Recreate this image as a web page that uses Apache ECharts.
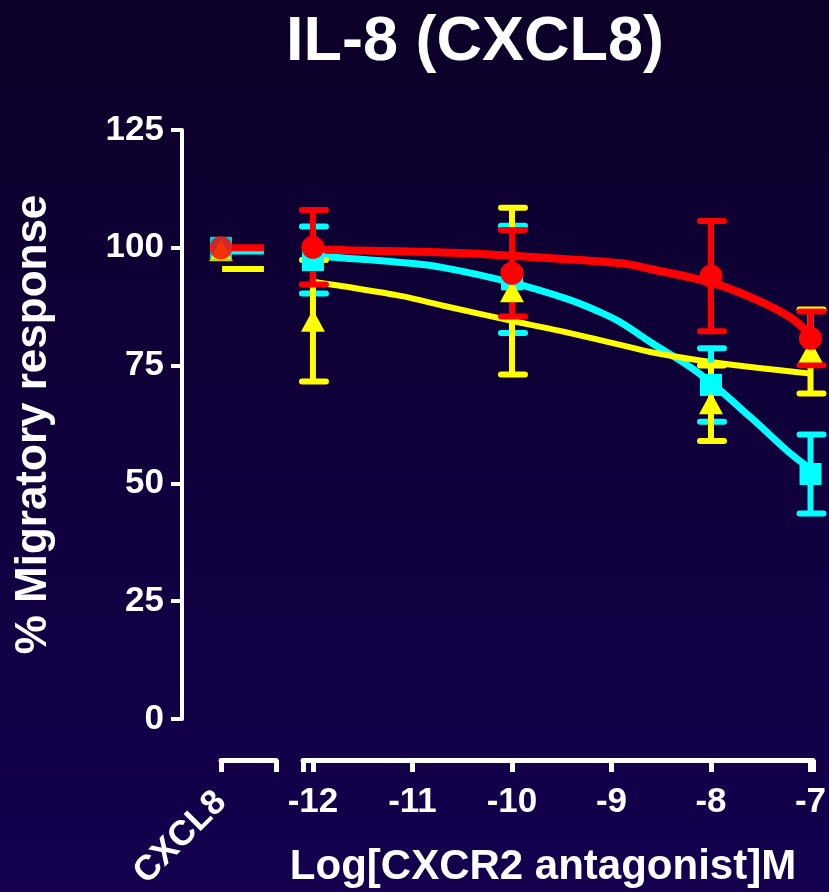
<!DOCTYPE html>
<html>
<head>
<meta charset="utf-8">
<script src="https://cdn.jsdelivr.net/npm/echarts@6/dist/echarts.min.js"></script>
<style>
html,body{margin:0;padding:0;background:#0f003a;}
#chart{width:829px;height:892px;}
</style>
</head>
<body>
<div id="chart"></div>
<script>
// ---- data ----
const titleText = 'IL-8 (CXCL8)';
const yTicks = [0, 25, 50, 75, 100, 125];
const doseTicks = [-12, -11, -10, -9, -8, -7];
const doses = [-12, -10, -8, -7];

const redMean = [100.1, 94.6, 94.0, 80.8];
const redErr = [7.9, 9.2, 11.7, 5.7];
const cyanMean = [97.4, 93.3, 70.9, 52.0];
const cyanErr = [7.1, 11.4, 7.8, 8.4];
const yellowMean = [84.5, 90.8, 67.0, 78.0];
const yellowErr = [12.9, 17.7, 8.0, 8.9];

// control (CXCL8 alone)
const controlRed = 100;
const controlCyan = 100;
const controlYellow = 99.5;
const controlLineRed = 100;
const controlLineCyan = 99.3;
const controlLineYellow = 95.5;

// fitted curves
const redCurveX = [-12, -11.86, -10.69, -10, -8.91, -8.61, -8, -7.6, -7.2, -7];
const redCurveY = [99.9, 99.6, 99.0, 98.3, 96.7, 95.5, 92.6, 89.5, 85.2, 81.4];
const cyanCurveX = [-12, -11.86, -11.12, -10.69, -10, -9.44, -9.11, -8.91, -8.61, -8.11, -7.6, -7.2, -7];
const cyanCurveY = [98.4, 98.1, 96.9, 95.8, 92.6, 89.1, 86.3, 84.2, 80.0, 73.2, 64.0, 56.3, 53.1];
const yellowCurveX = [-12, -11.12, -10.69, -10, -9.44, -8.91, -8.61, -8.11, -7.6, -7];
const yellowCurveY = [92.8, 89.8, 87.7, 84.5, 82.0, 79.4, 77.9, 76.1, 74.7, 73.3];

// ---- chart ----
const RED = '#ff0000', CYAN = '#00ffff', YELLOW = '#ffff00', WHITE = '#ffffff';
const FONT = '"Liberation Sans", Arial, sans-serif';

const zip = (xs, ys) => xs.map((x, i) => [x, ys[i]]);

function errorSeries(means, errs, color, z) {
  return {
    type: 'custom', xAxisIndex: 2, yAxisIndex: 2, z: z, silent: true,
    data: doses.map((x, i) => [x, means[i] - errs[i], means[i] + errs[i]]),
    renderItem: function (params, api) {
      const x = api.value(0);
      const lo = api.coord([x, api.value(1)]);
      const hi = api.coord([x, api.value(2)]);
      const st = {stroke: color, lineWidth: 6};
      const cap = {stroke: color, lineWidth: 6, lineCap: 'round'};
      return {
        type: 'group',
        children: [
          {type: 'line', shape: {x1: lo[0], y1: lo[1], x2: hi[0], y2: hi[1]}, style: st},
          {type: 'line', shape: {x1: hi[0] - 11, y1: hi[1], x2: hi[0] + 13, y2: hi[1]}, style: cap},
          {type: 'line', shape: {x1: lo[0] - 11, y1: lo[1], x2: lo[0] + 13, y2: lo[1]}, style: cap}
        ]
      };
    }
  };
}

function curve(xs, ys, color, w, z) {
  return {
    type: 'line', xAxisIndex: 2, yAxisIndex: 2, z: z, silent: true,
    data: zip(xs, ys), smooth: 0.4, showSymbol: false, symbol: 'none',
    lineStyle: {color: color, width: w}
  };
}

function markers(means, color, symbol, size, z) {
  return {
    type: 'scatter', xAxisIndex: 2, yAxisIndex: 2, z: z, silent: true,
    data: zip(doses, means), symbol: symbol, symbolSize: size,
    itemStyle: {color: color, opacity: 1}
  };
}

const hiddenY = (i) => ({gridIndex: i, type: 'value', min: 0, max: 125, show: false});

const option = {
  animation: false,
  backgroundColor: {
    type: 'linear', x: 0, y: 0, x2: 0, y2: 1,
    colorStops: [{offset: 0, color: '#0c0028'}, {offset: 1, color: '#14004f'}]
  },
  title: {
    text: titleText, left: 281, top: 6,
    textStyle: {color: WHITE, fontFamily: FONT, fontWeight: 'bold', fontSize: 63}
  },
  grid: [
    {left: 182, top: 130, height: 589, width: 10, outerBoundsMode: 'none', containLabel: false},
    {left: 221, top: 130, height: 589, width: 55, outerBoundsMode: 'none', containLabel: false},
    {left: 303, top: 130, height: 589, width: 510, outerBoundsMode: 'none', containLabel: false}
  ],
  xAxis: [
    {gridIndex: 0, type: 'value', show: false, min: 0, max: 1},
    {
      gridIndex: 1, type: 'value', min: 0, max: 1, offset: 41, position: 'bottom',
      splitLine: {show: false},
      axisLine: {show: true, onZero: false, lineStyle: {color: WHITE, width: 5}},
      axisTick: {show: true, length: 12, customValues: [0, 1], lineStyle: {color: WHITE, width: 5}},
      axisLabel: {
        show: true, customValues: [0], formatter: () => 'CXCL8', rotate: 45, margin: 37,
        color: WHITE, fontFamily: FONT, fontWeight: 'bold', fontSize: 35
      }
    },
    {
      gridIndex: 2, type: 'value', min: -12.1, max: -6.975, offset: 41, position: 'bottom',
      splitLine: {show: false},
      axisLine: {show: true, onZero: false, lineStyle: {color: WHITE, width: 5}},
      axisTick: {show: true, length: 12, customValues: [-12.1].concat(doseTicks).concat([-6.975]), lineStyle: {color: WHITE, width: 5}},
      axisLabel: {
        show: true, customValues: doseTicks, margin: 25,
        color: WHITE, fontFamily: FONT, fontWeight: 'bold', fontSize: 35
      },
      name: 'Log[CXCR2 antagonist]M', nameLocation: 'middle', nameGap: 86,
      nameTextStyle: {color: WHITE, fontFamily: FONT, fontWeight: 'bold', fontSize: 42, padding: [0, 30, 0, 0]}
    }
  ],
  yAxis: [
    {
      gridIndex: 0, type: 'value', min: 0, max: 125, interval: 25, position: 'left',
      splitLine: {show: false},
      axisLine: {show: true, onZero: false, lineStyle: {color: WHITE, width: 4}},
      axisTick: {show: true, length: 11, lineStyle: {color: WHITE, width: 4}},
      axisLabel: {color: WHITE, fontFamily: FONT, fontWeight: 'bold', fontSize: 35, margin: 18},
      name: '% Migratory response', nameLocation: 'middle', nameGap: 126,
      nameTextStyle: {color: WHITE, fontFamily: FONT, fontWeight: 'bold', fontSize: 44}
    },
    hiddenY(1), hiddenY(2)
  ],
  series: [
    // control group
    {type: 'line', xAxisIndex: 1, yAxisIndex: 1, z: 2, silent: true, symbol: 'none',
     data: [[0, controlLineCyan], [0.78, controlLineCyan]], lineStyle: {color: CYAN, width: 7}},
    {type: 'line', xAxisIndex: 1, yAxisIndex: 1, z: 2, silent: true, symbol: 'none',
     data: [[0, controlLineRed], [0.78, controlLineRed]], lineStyle: {color: RED, width: 7}},
    {type: 'line', xAxisIndex: 1, yAxisIndex: 1, z: 2, silent: true, symbol: 'none',
     data: [[0.02, controlLineYellow], [0.78, controlLineYellow]], lineStyle: {color: YELLOW, width: 6}},
    {type: 'scatter', xAxisIndex: 1, yAxisIndex: 1, z: 3, silent: true, symbol: 'rect', symbolSize: 22,
     data: [[0, controlCyan]], itemStyle: {color: CYAN}},
    {type: 'scatter', xAxisIndex: 1, yAxisIndex: 1, z: 3, silent: true, symbol: 'triangle', symbolSize: [24, 22],
     data: [[0, controlYellow]], itemStyle: {color: YELLOW}},
    {type: 'scatter', xAxisIndex: 1, yAxisIndex: 1, z: 3, silent: true, symbol: 'circle', symbolSize: 23,
     data: [[0, controlRed]], itemStyle: {color: RED}},
    // fitted curves
    curve(cyanCurveX, cyanCurveY, CYAN, 7, 2),
    curve(redCurveX, redCurveY, RED, 8, 2),
    curve(yellowCurveX, yellowCurveY, YELLOW, 6, 2),
    // data points with error bars
    errorSeries(cyanMean, cyanErr, CYAN, 3),
    markers(cyanMean, CYAN, 'rect', 22, 3),
    errorSeries(yellowMean, yellowErr, YELLOW, 3),
    markers(yellowMean, YELLOW, 'triangle', [24, 22], 3),
    errorSeries(redMean, redErr, RED, 3),
    markers(redMean, RED, 'circle', 23, 3)
  ]
};

const chart = echarts.init(document.getElementById('chart'), null, {renderer: 'canvas'});
chart.setOption(option);
</script>
</body>
</html>
